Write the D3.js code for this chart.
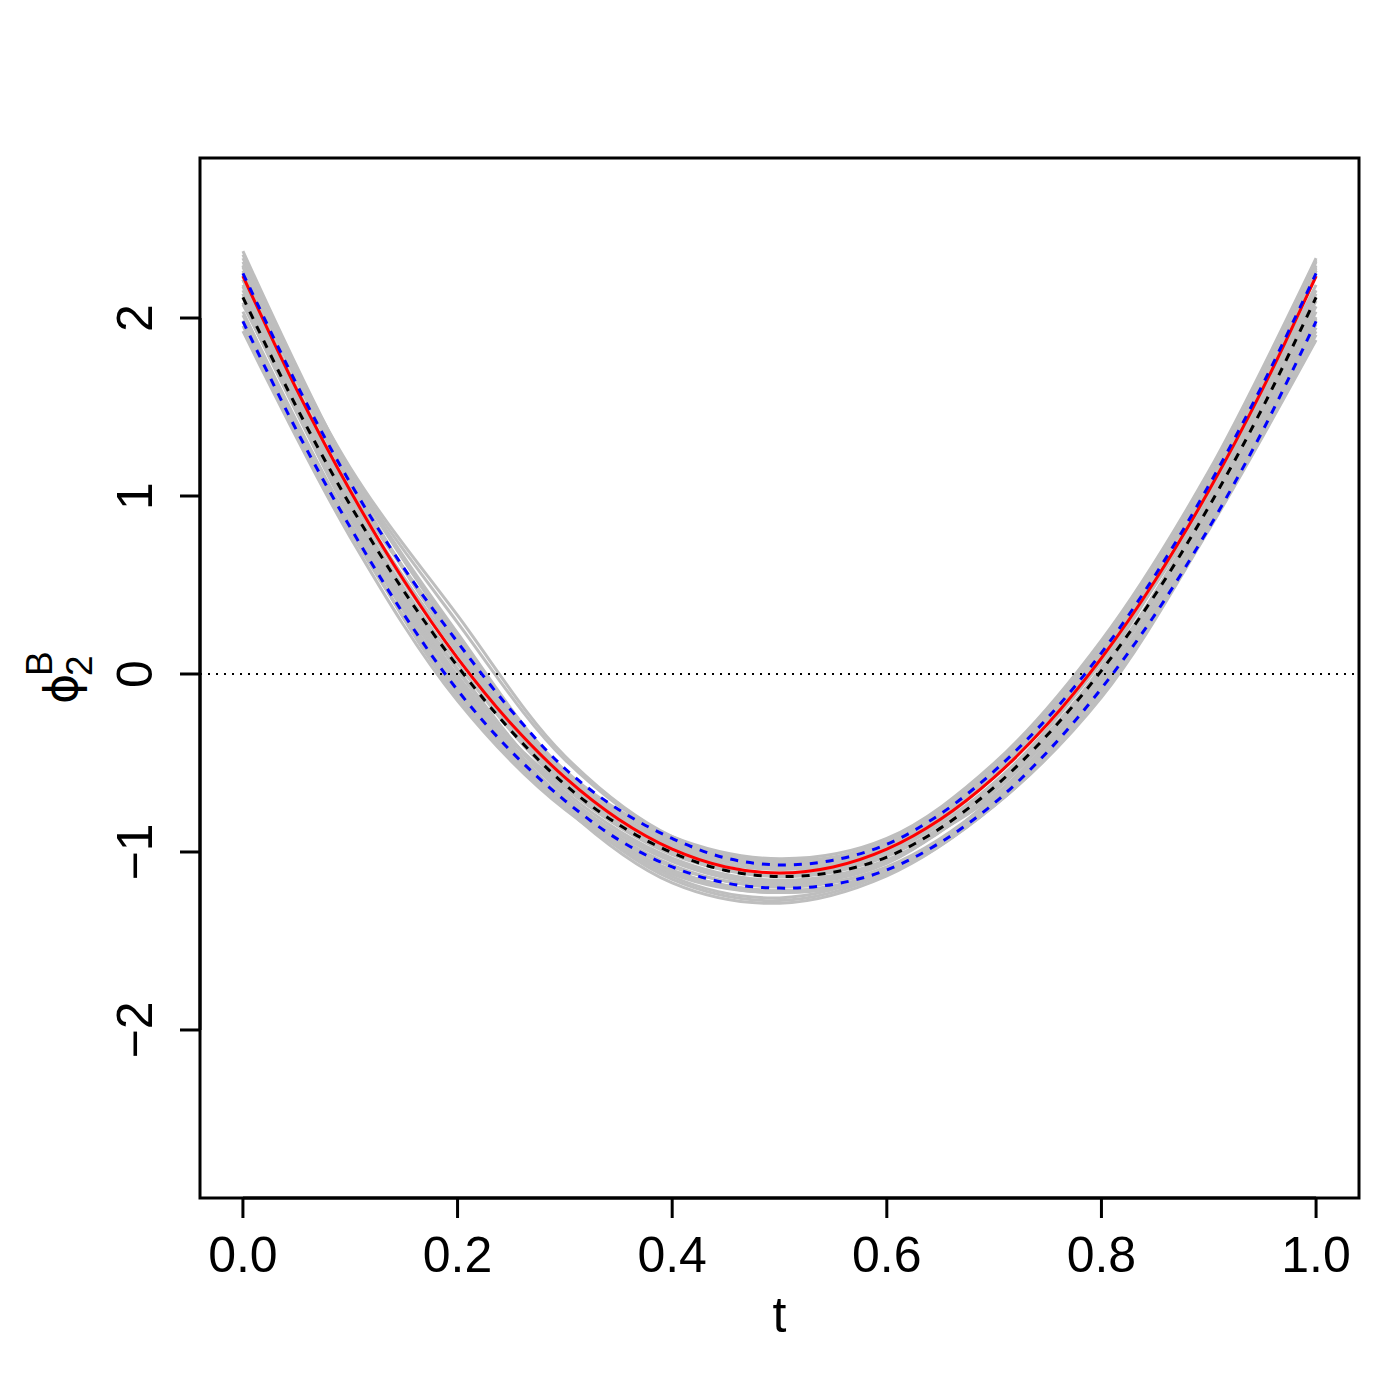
<!DOCTYPE html>
<html>
<head>
<meta charset="utf-8">
<script src="https://cdn.jsdelivr.net/npm/d3@7"></script>
<style>
  html, body { margin: 0; padding: 0; background: #ffffff; }
  svg { display: block; }
  text { font-family: "Liberation Sans", Arial, sans-serif; fill: #000; }
</style>
</head>
<body>
<svg id="chart" width="1400" height="1400"></svg>
<script>
// ---------- data ----------
const tFine = [0,0.05,0.1,0.15,0.2,0.25,0.3,0.35,0.4,0.45,0.5,0.55,0.6,0.65,0.7,0.75,0.8,0.85,0.9,0.95,1];
const tCoarse = [0,0.1,0.2,0.3,0.4,0.5,0.6,0.7,0.8,0.9,1];

const trueCurve = [2.236,1.599,1.029,0.525,0.089,-0.280,-0.581,-0.816,-0.984,-1.084,-1.118,-1.084,-0.984,-0.816,-0.581,-0.280,0.089,0.525,1.029,1.599,2.236];
const meanCurve = [2.116,1.499,0.949,0.465,0.044,-0.320,-0.621,-0.846,-1.004,-1.104,-1.138,-1.114,-1.029,-0.866,-0.636,-0.340,0.019,0.445,0.939,1.494,2.116];
const upperBand = [2.251,1.629,1.074,0.595,0.179,-0.205,-0.531,-0.761,-0.924,-1.034,-1.073,-1.046,-0.957,-0.786,-0.546,-0.245,0.119,0.555,1.059,1.624,2.251];
const lowerBand = [1.981,1.369,0.824,0.335,-0.091,-0.435,-0.711,-0.931,-1.084,-1.174,-1.203,-1.182,-1.101,-0.946,-0.726,-0.435,-0.081,0.335,0.819,1.364,1.981];

const bootCurves = [
  [2.376,1.139,0.229,-0.541,-0.914,-1.038,-0.924,-0.501,0.189,1.139,2.336],
  [1.926,0.769,-0.151,-0.761,-1.124,-1.228,-1.124,-0.741,-0.121,0.839,1.946],
  [2.286,1.069,0.169,-0.581,-0.944,-1.058,-0.954,-0.531,0.149,1.079,2.266],
  [2.036,0.849,-0.071,-0.701,-1.074,-1.198,-1.084,-0.701,-0.061,0.889,2.036],
  [2.186,0.999,0.089,-0.611,-0.984,-1.098,-0.994,-0.581,0.099,1.019,2.186],
  [2.116,0.909,-0.011,-0.661,-1.034,-1.158,-1.044,-0.661,-0.011,0.929,2.096],
  [2.336,1.099,0.139,-0.601,-0.964,-1.088,-0.984,-0.561,0.119,1.109,2.316],
  [1.986,0.819,-0.111,-0.731,-1.104,-1.218,-1.104,-0.721,-0.091,0.859,1.986],
  [2.236,1.039,0.189,-0.561,-1.004,-1.138,-1.024,-0.631,0.039,1.049,2.236],
  [2.076,0.949,0.029,-0.681,-1.054,-1.178,-1.064,-0.621,0.019,0.969,2.136],
  [2.156,0.879,-0.041,-0.641,-1.014,-1.128,-1.014,-0.681,-0.041,0.909,2.066],
  [2.316,1.119,0.209,-0.551,-0.934,-1.068,-0.934,-0.521,0.169,1.129,2.296],
  [1.956,0.799,-0.091,-0.721,-1.084,-1.188,-1.094,-0.731,-0.101,0.869,2.006],
  [2.216,0.969,0.059,-0.631,-1.004,-1.118,-1.004,-0.611,0.069,0.989,2.156],
  [2.356,1.129,0.199,-0.561,-0.924,-1.048,-0.944,-0.521,0.169,1.119,2.326],
  [2.086,0.889,-0.101,-0.741,-1.104,-1.218,-1.114,-0.721,-0.081,0.869,1.996],
  [2.256,1.019,0.119,-0.621,-0.974,-1.078,-0.974,-0.541,0.129,1.059,2.236],
  [2.016,0.829,-0.131,-0.751,-1.114,-1.228,-1.114,-0.691,-0.031,0.849,1.966],
  [2.136,0.929,0.019,-0.681,-1.044,-1.168,-1.054,-0.651,0.009,0.949,2.116],
  [2.296,1.079,0.149,-0.571,-0.954,-1.068,-0.964,-0.551,0.139,1.089,2.286],
  [2.296,1.159,0.329,-0.461,-0.914,-1.068,-0.954,-0.561,0.119,1.079,2.276],
  [2.266,1.139,0.289,-0.481,-0.924,-1.078,-0.964,-0.571,0.109,1.069,2.266],
  [2.136,0.909,-0.051,-0.751,-1.174,-1.288,-1.134,-0.741,-0.131,0.809,1.876],
  [2.176,0.939,-0.031,-0.731,-1.154,-1.273,-1.119,-0.731,-0.111,0.829,1.906],
  [2.216,0.959,-0.011,-0.711,-1.139,-1.258,-1.104,-0.721,-0.091,0.859,1.926]
];

const xTicks = [0,0.2,0.4,0.6,0.8,1.0];
const xTickLabels = ["0.0","0.2","0.4","0.6","0.8","1.0"];
const yTicks = [-2,-1,0,1,2];
const yTickLabels = ["\u22122","\u22121","0","1","2"];
const xLabel = "t";

// ---------- layout ----------
const plotL = 200, plotR = 1359, plotT = 158, plotB = 1198;
const svg = d3.select("#chart");
svg.append("rect").attr("width",1400).attr("height",1400).attr("fill","#fff");

const x = d3.scaleLinear().domain([-0.04, 1.04]).range([plotL, plotR]);
const y = d3.scaleLinear().domain([-2.944, 2.899]).range([plotB, plotT]);

const line = d3.line().x(d => x(d[0])).y(d => y(d[1])).curve(d3.curveCatmullRom.alpha(0.5));
const pair = (ts, vs) => ts.map((t, i) => [t, vs[i]]);

// gray bootstrap curves
svg.append("g").selectAll("path").data(bootCurves).join("path")
  .attr("d", c => line(pair(tCoarse, c)))
  .attr("fill","none").attr("stroke","#bebebe").attr("stroke-width",3);

// horizontal dotted line at 0
svg.append("line")
  .attr("x1", plotL).attr("x2", plotR).attr("y1", y(0)).attr("y2", y(0))
  .attr("stroke","#000").attr("stroke-width",2.2).attr("stroke-dasharray","2,6");

// true curve (red)
svg.append("path").attr("d", line(pair(tFine, trueCurve)))
  .attr("fill","none").attr("stroke","#ff0000").attr("stroke-width",3);

// mean (black dashed)
svg.append("path").attr("d", line(pair(tFine, meanCurve)))
  .attr("fill","none").attr("stroke","#000").attr("stroke-width",3).attr("stroke-dasharray","8,8");

// bands (blue dashed)
[upperBand, lowerBand].forEach(b => {
  svg.append("path").attr("d", line(pair(tFine, b)))
    .attr("fill","none").attr("stroke","#0000ff").attr("stroke-width",3).attr("stroke-dasharray","8,8");
});

// box
svg.append("rect").attr("x", plotL).attr("y", plotT)
  .attr("width", plotR - plotL).attr("height", plotB - plotT)
  .attr("fill","none").attr("stroke","#000").attr("stroke-width",3);

// x axis
const xAxis = svg.append("g");
xAxis.append("line").attr("x1", x(xTicks[0])).attr("x2", x(xTicks[xTicks.length-1]))
  .attr("y1", plotB).attr("y2", plotB).attr("stroke","#000").attr("stroke-width",3);
xAxis.selectAll("line.tick").data(xTicks).join("line").attr("class","tick")
  .attr("x1", d => x(d)).attr("x2", d => x(d)).attr("y1", plotB).attr("y2", plotB + 20)
  .attr("stroke","#000").attr("stroke-width",3);
xAxis.selectAll("text").data(xTicks).join("text")
  .attr("x", d => x(d)).attr("y", 1272).attr("text-anchor","middle")
  .attr("font-size", 50).text((d, i) => xTickLabels[i]);
svg.append("text").attr("x", (plotL + plotR) / 2).attr("y", 1332)
  .attr("text-anchor","middle").attr("font-size", 50).text(xLabel);

// y axis
const yAxis = svg.append("g");
yAxis.append("line").attr("x1", plotL).attr("x2", plotL)
  .attr("y1", y(yTicks[0])).attr("y2", y(yTicks[yTicks.length-1])).attr("stroke","#000").attr("stroke-width",3);
yAxis.selectAll("line.tick").data(yTicks).join("line").attr("class","tick")
  .attr("x1", plotL).attr("x2", plotL - 20).attr("y1", d => y(d)).attr("y2", d => y(d))
  .attr("stroke","#000").attr("stroke-width",3);
yAxis.selectAll("text").data(yTicks).join("text")
  .attr("transform", d => `translate(152,${y(d)}) rotate(-90)`)
  .attr("text-anchor","middle").attr("font-size", 50).text((d, i) => yTickLabels[i]);

// y label: phi_2^B
const yl = svg.append("g").attr("transform", `translate(77,${y(0)}) rotate(-90)`);
yl.append("text").attr("x", -30).attr("y", 0).attr("font-size", 46)
  .style("font-family", "'DejaVu Sans', sans-serif").text("\u03D5");
yl.append("text").attr("x", -2).attr("y", -25).attr("font-size", 37).text("B");
yl.append("text").attr("x", -2).attr("y", 15).attr("font-size", 37).text("2");
</script>
</body>
</html>
